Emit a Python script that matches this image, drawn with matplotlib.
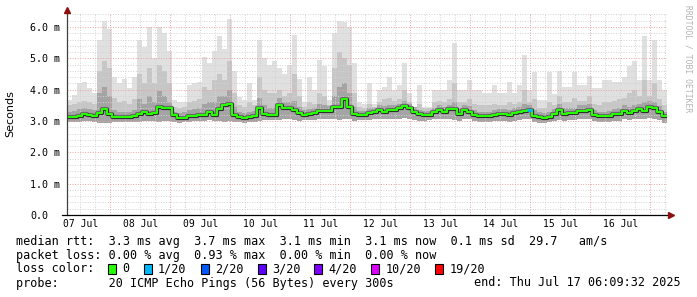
import matplotlib
matplotlib.use("Agg")
import matplotlib.pyplot as plt
import matplotlib.patheffects as pe
from matplotlib.patches import Rectangle
import numpy as np

# smokeping data, 2 h bins starting 07 Jul ~06:40 (values in ms)
med = [3.12, 3.12, 3.16, 3.22, 3.19, 3.16, 3.25, 3.38, 3.22, 3.14,
       3.13, 3.12, 3.12, 3.15, 3.22, 3.30, 3.23, 3.25, 3.45, 3.42,
       3.40, 3.20, 3.10, 3.10, 3.15, 3.15, 3.20, 3.20, 3.28, 3.20,
       3.37, 3.50, 3.55, 3.20, 3.12, 3.10, 3.13, 3.17, 3.40, 3.22,
       3.19, 3.19, 3.51, 3.40, 3.40, 3.35, 3.25, 3.20, 3.22, 3.26,
       3.32, 3.32, 3.33, 3.45, 3.45, 3.70, 3.45, 3.22, 3.20, 3.20,
       3.27, 3.30, 3.35, 3.30, 3.35, 3.35, 3.40, 3.48, 3.40, 3.30,
       3.22, 3.20, 3.20, 3.28, 3.35, 3.30, 3.37, 3.37, 3.22, 3.35,
       3.30, 3.19, 3.15, 3.15, 3.15, 3.20, 3.22, 3.22, 3.19, 3.25,
       3.30, 3.32, 3.36, 3.15, 3.12, 3.10, 3.14, 3.22, 3.35, 3.22,
       3.24, 3.25, 3.33, 3.33, 3.35, 3.19, 3.15, 3.15, 3.15, 3.22,
       3.22, 3.33, 3.25, 3.33, 3.37, 3.33, 3.46, 3.40, 3.30, 3.15]

hi = [3.67, 3.83, 4.20, 4.25, 4.05, 3.90, 5.60, 6.20, 5.95, 4.40,
      4.20, 4.35, 4.05, 4.40, 5.60, 5.35, 6.00, 5.00, 6.00, 5.80,
      5.25, 3.67, 3.60, 3.60, 4.15, 4.20, 4.25, 5.05, 4.85, 5.25,
      5.70, 5.30, 6.25, 4.60, 3.77, 3.67, 4.20, 3.67, 5.60, 5.00,
      4.80, 4.90, 4.70, 4.50, 4.80, 5.75, 4.35, 3.60, 4.40, 4.00,
      4.95, 4.75, 3.67, 5.80, 6.20, 6.15, 6.00, 4.85, 3.60, 3.55,
      4.20, 3.55, 4.00, 4.10, 4.40, 4.00, 4.15, 4.85, 3.90, 3.45,
      4.15, 3.45, 3.45, 4.00, 4.00, 4.00, 4.30, 5.50, 4.00, 4.00,
      4.30, 4.00, 4.00, 3.90, 3.90, 4.15, 3.90, 3.90, 4.25, 3.90,
      4.15, 5.10, 4.00, 4.55, 3.67, 3.67, 4.55, 3.85, 4.60, 4.10,
      4.10, 4.55, 4.15, 4.15, 4.45, 4.05, 4.05, 4.30, 4.30, 4.25,
      4.25, 4.40, 4.75, 4.90, 4.30, 5.70, 4.30, 5.60, 4.30, 4.00]

p90 = [3.50, 3.55, 3.60, 3.65, 3.60, 3.55, 4.60, 4.90, 4.70, 3.75,
       3.60, 3.65, 3.55, 3.70, 4.50, 4.20, 4.70, 4.20, 4.80, 4.60,
       4.20, 3.45, 3.40, 3.45, 3.60, 3.65, 3.70, 4.10, 4.00, 4.30,
       4.50, 4.30, 4.90, 3.90, 3.50, 3.45, 3.60, 3.50, 4.40, 4.00,
       3.90, 3.90, 4.00, 3.80, 3.90, 4.50, 3.80, 3.45, 3.60, 3.55,
       3.90, 3.80, 3.50, 4.70, 5.20, 5.00, 4.80, 3.90, 3.45, 3.40,
       3.55, 3.45, 3.60, 3.70, 3.75, 3.65, 3.70, 4.00, 3.60, 3.40,
       3.55, 3.40, 3.40, 3.60, 3.65, 3.60, 3.70, 4.20, 3.60, 3.60,
       3.70, 3.55, 3.50, 3.50, 3.50, 3.55, 3.50, 3.50, 3.60, 3.55,
       3.60, 4.00, 3.60, 3.70, 3.40, 3.40, 3.60, 3.50, 3.80, 3.60,
       3.60, 3.75, 3.65, 3.65, 3.80, 3.55, 3.50, 3.60, 3.60, 3.65,
       3.70, 3.75, 3.90, 4.00, 3.80, 4.30, 3.80, 4.20, 3.70, 3.50]

p75 = [3.30, 3.32, 3.38, 3.42, 3.38, 3.35, 3.90, 4.10, 3.80, 3.35,
       3.30, 3.30, 3.28, 3.35, 3.70, 3.55, 3.80, 3.60, 3.95, 3.80,
       3.60, 3.30, 3.25, 3.28, 3.35, 3.38, 3.42, 3.55, 3.60, 3.60,
       3.80, 3.80, 4.00, 3.45, 3.30, 3.25, 3.30, 3.32, 3.75, 3.50,
       3.40, 3.42, 3.75, 3.60, 3.60, 3.65, 3.45, 3.35, 3.38, 3.42,
       3.55, 3.50, 3.48, 3.80, 4.10, 4.20, 3.90, 3.45, 3.33, 3.32,
       3.40, 3.42, 3.50, 3.48, 3.52, 3.50, 3.55, 3.65, 3.55, 3.45,
       3.35, 3.32, 3.32, 3.42, 3.50, 3.45, 3.52, 3.60, 3.40, 3.50,
       3.48, 3.35, 3.30, 3.30, 3.30, 3.35, 3.38, 3.38, 3.36, 3.40,
       3.45, 3.55, 3.52, 3.35, 3.28, 3.25, 3.30, 3.38, 3.55, 3.40,
       3.40, 3.42, 3.50, 3.50, 3.55, 3.35, 3.30, 3.30, 3.32, 3.38,
       3.40, 3.50, 3.45, 3.52, 3.55, 3.60, 3.65, 3.60, 3.48, 3.30]

lo = [2.98, 2.98, 2.98, 3.00, 3.00, 2.98, 2.95, 2.93, 2.95, 2.97,
      2.97, 2.97, 2.97, 2.98, 2.97, 3.00, 3.00, 3.00, 2.97, 3.00,
      3.00, 2.97, 2.95, 2.97, 2.97, 3.00, 3.00, 3.00, 3.03, 3.00,
      3.00, 2.97, 3.00, 2.98, 2.97, 2.95, 2.97, 2.97, 3.00, 3.03,
      3.03, 3.03, 3.03, 3.05, 3.05, 3.03, 3.00, 3.03, 3.03, 3.03,
      3.05, 3.05, 3.05, 3.05, 3.03, 3.07, 3.07, 3.00, 3.03, 3.03,
      3.03, 3.05, 3.05, 3.07, 3.07, 3.07, 3.07, 3.10, 3.07, 3.03,
      3.00, 3.00, 3.03, 3.05, 3.05, 3.05, 3.05, 3.03, 3.00, 3.05,
      3.05, 3.00, 2.97, 2.97, 2.97, 3.00, 3.00, 3.00, 2.98, 3.00,
      3.03, 3.05, 3.05, 2.97, 2.95, 2.95, 2.97, 3.00, 3.03, 3.00,
      3.03, 3.03, 3.05, 3.07, 3.05, 3.00, 2.97, 2.97, 2.97, 3.00,
      3.00, 3.05, 3.03, 3.05, 3.07, 3.07, 3.10, 3.07, 3.03, 2.93]

# lost pings per bin (out of 20)
loss = [0, 0, 0, 0, 0, 0, 0, 0, 0, 0, 0, 0, 0, 0, 0, 0, 0, 0, 0, 0,
        0, 0, 0, 0, 0, 0, 0, 0, 0, 0, 0, 0, 0, 0, 0, 0, 0, 0, 0, 0,
        0, 0, 0, 0, 0, 0, 0, 0, 0, 0, 0, 0, 0, 0, 0, 0, 0, 0, 0, 0,
        0, 0, 0, 0, 0, 0, 0, 0, 0, 0, 0, 0, 0, 0, 0, 0, 0, 0, 0, 0,
        0, 0, 0, 0, 0, 0, 0, 0, 0, 0, 0, 0, 1, 0, 0, 0, 0, 0, 0, 0,
        0, 0, 0, 0, 0, 0, 0, 0, 0, 0, 0, 0, 0, 0, 0, 0, 0, 0, 0, 0]

day_labels = ["07 Jul", "08 Jul", "09 Jul", "10 Jul", "11 Jul",
              "12 Jul", "13 Jul", "14 Jul", "15 Jul", "16 Jul"]
y_ticks = [0, 1, 2, 3, 4, 5, 6]
y_labels = ["0.0", "1.0 m", "2.0 m", "3.0 m", "4.0 m", "5.0 m", "6.0 m"]

loss_keys = ["0", "1/20", "2/20", "3/20", "4/20", "10/20", "19/20"]
loss_colors = ["#26ff00", "#00b8ff", "#0059ff", "#5e00ff", "#7e00ff", "#dd00ff", "#ff0000"]
loss_color_of = {0: "#26ff00", 1: "#00b8ff", 2: "#0059ff", 3: "#5e00ff", 4: "#7e00ff"}

legend_rtt = "median rtt:  3.3 ms avg  3.7 ms max  3.1 ms min  3.1 ms now  0.1 ms sd  29.7   am/s"
legend_loss = "packet loss: 0.00 % avg  0.93 % max  0.00 % min  0.00 % now"
legend_probe = "probe:       20 ICMP Echo Pings (56 Bytes) every 300s"
legend_end = "end: Thu Jul 17 06:09:32 2025"

MONO = "DejaVu Sans Mono"
W, H = 697, 297

t_start = 6.67  # hours after 07 Jul 00:00
step = 2.0
n = len(med)
edges = t_start + step * np.arange(n + 1)


def ext(a):
    return np.append(a, a[-1])


fig = plt.figure(figsize=(W / 100, H / 100), dpi=100)
fig.patch.set_facecolor("white")
ax = fig.add_axes([67 / W, (H - 215) / H, 600 / W, (215 - 12.9) / H])
ax.set_xlim(t_start, t_start + 240)
ax.set_ylim(0, 6.45)
for s in ax.spines.values():
    s.set_visible(False)

# smoke
ax.fill_between(edges, ext(lo), ext(hi), step="post", color="#e0e0e0", lw=0, zorder=1)
ax.fill_between(edges, ext(lo), ext(p90), step="post", color="#c6c6c6", lw=0, zorder=1.1)
ax.fill_between(edges, ext(lo), ext(p75), step="post", color="#a4a4a4", lw=0, zorder=1.2)

# grid (drawn over the smoke like rrdtool)
dots = (0, (1, 1.6))
for y in np.arange(0.2, 6.45, 0.2):
    if abs(y - round(y)) > 1e-6:
        ax.axhline(y, color="#d2d2d2", lw=0.7, ls=dots, zorder=2)
for y in y_ticks[1:]:
    ax.axhline(y, color="#e8a4a4", lw=0.7, ls=dots, zorder=2.1)
for h in range(6, 250, 6):
    if h % 24 and t_start < h < t_start + 240:
        ax.axvline(h, color="#d2d2d2", lw=0.7, ls=dots, zorder=2)
for h in range(24, 250, 24):
    ax.axvline(h, color="#e8a4a4", lw=0.7, ls=dots, zorder=2.1)

# median line with a dark halo of smoke around it
ax.step(edges, ext(med), where="post", color="#26ff00", lw=1.5, zorder=4,
        path_effects=[pe.Stroke(linewidth=3.0, foreground="#6a6a6a"),
                      pe.Stroke(linewidth=2.2, foreground="#2a2a2a"), pe.Normal()])
for i in range(n):
    if loss[i] > 0:
        ax.hlines(med[i], edges[i], edges[i + 1], color=loss_color_of[loss[i]], lw=2.0, zorder=5)

# axes lines + arrows
ax.plot([0, 0], [0, 1.01], transform=ax.transAxes, color="#404040", lw=0.9, clip_on=False, zorder=6)
ax.plot([-0.008, 1.003], [0, 0], transform=ax.transAxes, color="black", lw=0.9, clip_on=False, zorder=6)
ax.plot([0], [1.012], marker="^", ms=4, color="#8b1010", transform=ax.transAxes, clip_on=False, zorder=7)
ax.plot([1.006], [0], marker=">", ms=4, color="#8b1010", transform=ax.transAxes, clip_on=False, zorder=7)

# ticks
ax.set_xticks([12 + 24 * k for k in range(len(day_labels))])
ax.set_xticklabels(day_labels, fontfamily=MONO, fontsize=7)
ax.set_yticks(y_ticks)
ax.set_yticklabels(y_labels, fontfamily=MONO, fontsize=7.2, ha="left")
ax.tick_params(axis="x", length=0, pad=3)
ax.tick_params(axis="y", length=0, pad=26.6)

fig.text(10 / W, 1 - 114 / H, "Seconds", rotation=90, ha="center", va="center",
         fontsize=8, fontfamily="DejaVu Sans")
fig.text(688 / W, 1 - 5 / H, "RRDTOOL / TOBI OETIKER", rotation=270, ha="center", va="top",
         fontsize=5.8, fontfamily=MONO, color="#b4b4b4")

# legend
fs = 8.5
cw = 0.602 * fs * 100 / 72  # char width in px
x0 = 16
fig.text(x0 / W, 1 - 241 / H, legend_rtt, fontfamily=MONO, fontsize=fs, va="center")
fig.text(x0 / W, 1 - 255 / H, legend_loss, fontfamily=MONO, fontsize=fs, va="center")
fig.text(x0 / W, 1 - 269 / H, "loss color:", fontfamily=MONO, fontsize=fs, va="center")
col = 13
for key, c in zip(loss_keys, loss_colors):
    xs = x0 + col * cw
    fig.patches.append(Rectangle((xs / W, (H - 274) / H), 8 / W, 10 / H, transform=fig.transFigure,
                                 facecolor=c, edgecolor="black", lw=0.8))
    fig.text((x0 + (col + 2) * cw) / W, 1 - 269 / H, key, fontfamily=MONO, fontsize=fs, va="center")
    col += 2 + len(key) + 2
fig.text(x0 / W, 1 - 283 / H, legend_probe, fontfamily=MONO, fontsize=fs, va="center")
fig.text(681 / W, 1 - 283 / H, legend_end, fontfamily=MONO, fontsize=fs, va="center", ha="right")

fig.savefig("out.png", dpi=100)
